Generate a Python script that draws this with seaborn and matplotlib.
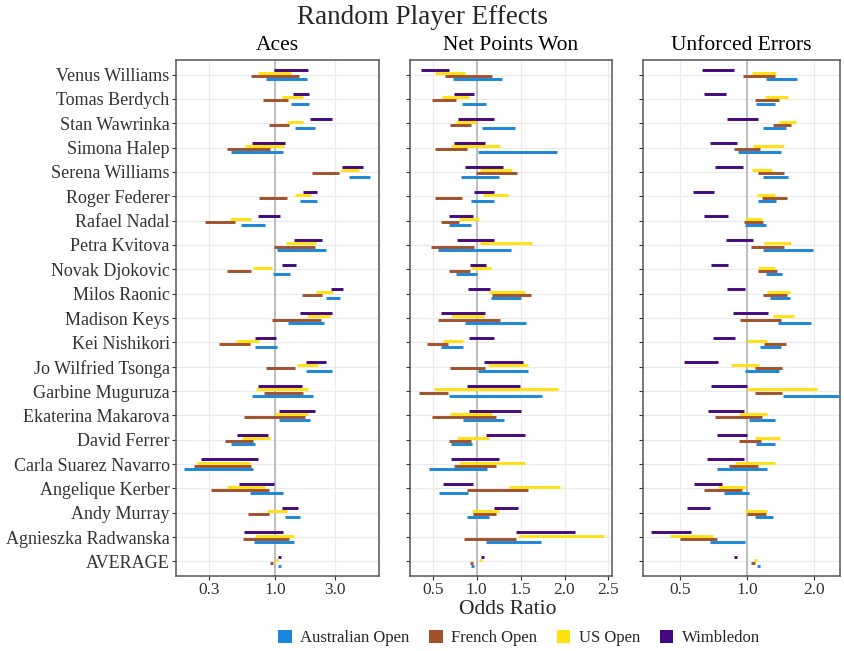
import matplotlib
matplotlib.use("Agg")
import matplotlib.pyplot as plt
from matplotlib.patches import Patch
import pandas as pd
import seaborn as sns

# rows listed top to bottom as they appear in the chart
players = ['Venus Williams', 'Tomas Berdych', 'Stan Wawrinka', 'Simona Halep', 'Serena Williams',
           'Roger Federer', 'Rafael Nadal', 'Petra Kvitova', 'Novak Djokovic', 'Milos Raonic',
           'Madison Keys', 'Kei Nishikori', 'Jo Wilfried Tsonga', 'Garbine Muguruza',
           'Ekaterina Makarova', 'David Ferrer', 'Carla Suarez Navarro', 'Angelique Kerber',
           'Andy Murray', 'Agnieszka Radwanska', 'AVERAGE']
tournaments = ['Australian Open', 'French Open', 'US Open', 'Wimbledon']
colors = ['#1B87DA', '#A0522D', '#FFE10F', '#45087E']

# (lower, upper) odds ratio per player, one list per tournament
aces_ao = [(0.85, 1.79), (1.35, 1.85), (1.43, 2.06), (0.45, 1.15), (3.85, 5.68), (1.59, 2.14), (0.54, 0.84),
           (1.04, 2.52), (0.97, 1.32), (2.52, 3.29), (1.27, 2.44), (0.69, 1.03), (1.75, 2.81), (0.66, 2.01),
           (1.08, 1.88), (0.45, 0.70), (0.19, 0.67), (0.64, 1.16), (1.19, 1.59), (0.68, 1.41), (1.06, 1.11)]
aces_fo = [(0.65, 1.54), (0.80, 1.27), (0.90, 1.29), (0.42, 0.92), (1.98, 3.21), (0.75, 1.25), (0.28, 0.48),
           (0.98, 2.09), (0.42, 0.65), (1.64, 2.34), (0.95, 2.30), (0.36, 0.64), (0.85, 1.45), (0.82, 1.68),
           (0.57, 1.72), (0.40, 0.67), (0.23, 0.65), (0.31, 0.90), (0.61, 0.89), (0.56, 1.29), (0.92, 0.97)]
aces_us = [(0.74, 1.34), (1.14, 1.67), (1.25, 1.68), (0.58, 1.17), (3.35, 4.60), (1.45, 1.94), (0.44, 0.65),
           (1.22, 2.11), (0.67, 0.94), (2.11, 2.86), (1.79, 2.71), (0.49, 0.75), (1.49, 2.18), (0.71, 1.83),
           (1.01, 1.81), (0.55, 0.91), (0.24, 0.64), (0.42, 0.83), (0.86, 1.24), (0.70, 1.42), (1.01, 1.06)]
aces_wi = [(0.99, 1.83), (1.40, 1.86), (1.91, 2.81), (0.66, 1.20), (3.39, 5.00), (1.67, 2.15), (0.73, 1.09),
           (1.41, 2.34), (1.14, 1.46), (2.78, 3.43), (1.58, 2.83), (0.70, 1.02), (1.75, 2.53), (0.73, 1.63),
           (1.08, 2.07), (0.50, 0.88), (0.26, 0.74), (0.52, 0.98), (1.14, 1.52), (0.57, 1.16), (1.06, 1.12)]

net_ao = [(0.73, 1.29), (0.83, 1.11), (1.06, 1.44), (1.01, 1.91), (0.82, 1.26), (0.94, 1.20), (0.69, 0.94),
          (0.56, 1.39), (0.77, 1.00), (1.16, 1.51), (0.87, 1.56), (0.59, 0.85), (1.01, 1.58), (0.68, 1.74),
          (0.85, 1.31), (0.71, 0.95), (0.46, 1.12), (0.57, 0.90), (0.89, 1.14), (1.11, 1.73), (0.94, 0.97)]
net_fo = [(0.64, 1.18), (0.49, 0.76), (0.70, 0.94), (0.53, 0.89), (0.99, 1.46), (0.53, 0.83), (0.59, 0.80),
          (0.48, 0.97), (0.69, 0.92), (1.18, 1.62), (0.56, 1.27), (0.43, 0.67), (0.70, 1.09), (0.34, 0.67),
          (0.49, 1.22), (0.68, 0.94), (0.74, 1.22), (0.89, 1.59), (0.96, 1.22), (0.86, 1.45), (0.92, 0.96)]
net_us = [(0.53, 0.87), (0.61, 0.91), (0.76, 0.99), (0.71, 1.27), (1.04, 1.40), (1.07, 1.36), (0.80, 1.03),
          (1.04, 1.63), (0.94, 1.16), (1.14, 1.55), (0.71, 1.08), (0.62, 0.85), (1.13, 1.59), (0.51, 1.92),
          (0.70, 1.17), (0.78, 1.14), (0.80, 1.55), (1.37, 1.95), (0.95, 1.26), (1.47, 2.45), (1.03, 1.06)]
net_wi = [(0.37, 0.68), (0.74, 0.97), (0.79, 1.20), (0.74, 1.09), (0.87, 1.30), (0.97, 1.20), (0.69, 0.96),
          (0.78, 1.20), (0.92, 1.11), (0.90, 1.15), (0.59, 1.10), (0.91, 1.20), (1.08, 1.53), (0.89, 1.49),
          (0.91, 1.51), (1.11, 1.55), (0.71, 1.25), (0.62, 0.96), (1.20, 1.47), (1.45, 2.12), (1.05, 1.08)]

ue_ao = [(1.21, 1.67), (1.10, 1.34), (1.18, 1.49), (0.91, 1.42), (1.18, 1.53), (1.12, 1.35), (0.98, 1.22),
         (1.18, 1.97), (1.21, 1.44), (1.27, 1.55), (1.37, 1.93), (1.14, 1.42), (0.98, 1.39), (1.45, 2.58),
         (1.02, 1.33), (1.10, 1.34), (0.73, 1.23), (0.79, 1.02), (1.08, 1.30), (0.68, 0.98), (1.11, 1.14)]
ue_fo = [(0.96, 1.34), (1.09, 1.39), (1.30, 1.57), (0.87, 1.14), (1.12, 1.46), (1.16, 1.51), (0.97, 1.18),
         (1.04, 1.47), (1.12, 1.36), (1.18, 1.51), (0.93, 1.42), (1.19, 1.49), (1.08, 1.44), (1.08, 1.44),
         (0.72, 1.16), (0.92, 1.15), (0.83, 1.12), (0.64, 0.95), (1.00, 1.22), (0.50, 0.73), (1.04, 1.08)]
ue_us = [(1.05, 1.35), (1.20, 1.52), (1.39, 1.66), (1.06, 1.47), (1.05, 1.29), (1.11, 1.34), (0.98, 1.17),
         (1.19, 1.58), (1.12, 1.34), (1.23, 1.55), (1.31, 1.63), (1.00, 1.23), (0.85, 1.13), (1.00, 2.05),
         (0.92, 1.23), (1.08, 1.40), (0.88, 1.33), (0.74, 0.99), (0.98, 1.23), (0.45, 0.70), (1.07, 1.11)]
ue_wi = [(0.63, 0.87), (0.64, 0.80), (0.81, 1.12), (0.68, 0.90), (0.72, 0.96), (0.57, 0.71), (0.64, 0.82),
         (0.80, 1.06), (0.69, 0.82), (0.81, 0.98), (0.86, 1.24), (0.70, 0.88), (0.52, 0.74), (0.69, 1.00),
         (0.67, 0.97), (0.73, 1.00), (0.66, 0.97), (0.58, 0.77), (0.54, 0.68), (0.37, 0.56), (0.87, 0.90)]

panels = [
    ('Aces', [aces_ao, aces_fo, aces_us, aces_wi], 'log', [0.3, 1.0, 3.0], (0.165, 6.65)),
    ('Net Points Won', [net_ao, net_fo, net_us, net_wi], 'linear', [0.5, 1.0, 1.5, 2.0, 2.5], (0.242, 2.54)),
    ('Unforced Errors', [ue_ao, ue_fo, ue_us, ue_wi], 'log', [0.5, 1.0, 2.0], (0.341, 2.61)),
]


def build_frame(series):
    # long table: two rows (lower / upper) per interval, dodged vertically
    n = len(players)
    dodge = dict(zip(tournaments, [-0.1875, -0.0625, 0.0625, 0.1875]))
    rows = []
    for t, vals in zip(tournaments, series):
        for i, (lo, hi) in enumerate(vals):
            y = n - 1 - i + dodge[t]
            rows.append({'id': f'{t}_{i}', 'tournament': t, 'value': lo, 'ypos': y})
            rows.append({'id': f'{t}_{i}', 'tournament': t, 'value': hi, 'ypos': y})
    return pd.DataFrame(rows)


def main():
    sns.set_theme(style='white')
    plt.rcParams['font.family'] = ['Liberation Serif', 'DejaVu Serif']

    W, H = 845, 651
    fig = plt.figure(figsize=(W / 100, H / 100), dpi=100)
    boxes = [(176, 379), (410, 612), (643, 840)]
    top, bottom = 60, 576
    palette = dict(zip(tournaments, colors))
    n = len(players)

    for k, ((name, series, scale, ticks, lims), (x0, x1)) in enumerate(zip(panels, boxes)):
        ax = fig.add_axes([x0 / W, 1 - bottom / H, (x1 - x0) / W, (bottom - top) / H])
        df = build_frame(series)
        ax.axvline(1.0, color='#b0b0b0', lw=1.1, zorder=1)
        sns.lineplot(data=df, x='value', y='ypos', hue='tournament', units='id', estimator=None,
                     sort=False, palette=palette, linewidth=2.1, legend=False, ax=ax,
                     solid_capstyle='butt', zorder=3)
        ax.set_xscale(scale)
        ax.set_xlim(*lims)
        ax.set_ylim(-0.6, n - 1 + 0.6)
        ax.set_xticks(ticks)
        ax.set_xticklabels([f'{t:.1f}' for t in ticks], fontsize=12.5, color='#333333')
        ax.minorticks_off()
        ax.set_yticks(range(n))
        if k == 0:
            ax.set_yticklabels(players[::-1], fontsize=13, color='#333333')
        else:
            ax.set_yticklabels([])
        ax.set_xlabel('')
        ax.set_ylabel('')
        ax.grid(True, color='#ebebeb', lw=0.9, zorder=0)
        ax.set_axisbelow(True)
        ax.tick_params(axis='both', length=3, width=0.8, color='#333333', pad=1.5, left=True, bottom=True)
        for sp in ax.spines.values():
            sp.set_color('#555555')
            sp.set_linewidth(1.1)
        ax.text(0.5, 1 + 15 / (bottom - top), name, transform=ax.transAxes,
                ha='center', va='center', fontsize=15.5, color='black')

    fig.text(0.5, 1 - 17 / H, 'Random Player Effects', ha='center', va='center', fontsize=19.5)
    fig.text(508 / W, 1 - 609 / H, 'Odds Ratio', ha='center', va='center', fontsize=15.5)

    handles = [Patch(facecolor=c, edgecolor='none', label=t) for t, c in zip(tournaments, colors)]
    fig.legend(handles=handles, loc='center', bbox_to_anchor=(519 / W, 1 - 638 / H), ncol=4,
               frameon=False, fontsize=12, handlelength=0.8, handleheight=0.8,
               handletextpad=0.5, columnspacing=1.2)

    fig.savefig('out.png', dpi=100)
    plt.close(fig)


if __name__ == '__main__':
    main()
